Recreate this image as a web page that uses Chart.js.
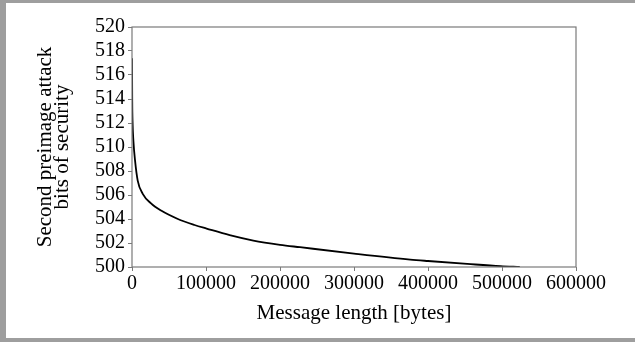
<!DOCTYPE html>
<html>
<head>
<meta charset="utf-8">
<script src="https://cdn.jsdelivr.net/npm/chart.js@4.4.1/dist/chart.umd.min.js"></script>
<style>
    html, body { margin: 0; padding: 0; background: #fff; }
    #wrap { position: relative; width: 635px; height: 342px; }
    #chart { position: absolute; left: 0; top: 0; }
    #frame {
        position: absolute; left: 0; top: 0; width: 635px; height: 342px;
        box-sizing: border-box;
        border-top: 3px solid #9e9e9e;
        border-left: 6px solid #9e9e9e;
        border-bottom: 4px solid #9e9e9e;
        pointer-events: none;
    }
</style>
</head>
<body>
<div id="wrap">
    <canvas id="chart" width="635" height="342"></canvas>
    <div id="frame"></div>
</div>
<script>
// Longitud del mensaje (bytes) y bits de seguridad frente a segunda preimagen
const msgLength = [0, 300, 800, 1900, 4070, 7700, 14500, 25700, 39300, 62000, 84500,
    100800, 132000, 164000, 200000, 227000, 300000, 376000, 400000, 453000, 498000, 524000];
const securityBits = [517.4, 513.8, 512.0, 510.5, 508.9, 507.2, 506.1, 505.3, 504.7, 504.0, 503.5,
    503.2, 502.65, 502.2, 501.85, 501.65, 501.12, 500.62, 500.5, 500.26, 500.07, 500.0];

// Marcas de los ejes
const xTicks = [0, 100000, 200000, 300000, 400000, 500000, 600000];
const yTicks = [500, 502, 504, 506, 508, 510, 512, 514, 516, 518, 520];

const AXIS_GRAY = '#7a7a7a';
const serif = 'Liberation Serif';

// Marco alrededor del área del gráfico
const frameBox = {
    id: 'frameBox',
    afterDraw(chart) {
        const { ctx, chartArea: a } = chart;
        ctx.save();
        ctx.strokeStyle = AXIS_GRAY;
        ctx.lineWidth = 1.2;
        ctx.strokeRect(a.left, a.top, a.right - a.left, a.bottom - a.top);
        ctx.restore();
    }
};

const points = msgLength.map((x, i) => ({ x: x, y: securityBits[i] }));

new Chart(document.getElementById('chart'), {
    type: 'line',
    data: {
        datasets: [{
            data: points,
            borderColor: '#000',
            borderWidth: 1.8,
            pointRadius: 0,
            fill: false,
            cubicInterpolationMode: 'monotone'
        }]
    },
    options: {
        responsive: false,
        animation: false,
        layout: { padding: { left: 0, top: 27, right: 59, bottom: 0 } },
        plugins: { legend: { display: false }, tooltip: { enabled: false } },
        scales: {
            x: {
                type: 'linear',
                min: 0,
                max: 600000,
                afterBuildTicks: scale => { scale.ticks = xTicks.map(v => ({ value: v })); },
                afterFit: scale => { scale.height = 75; },
                grid: { drawOnChartArea: false, tickLength: 4, color: AXIS_GRAY },
                border: { display: false },
                ticks: {
                    padding: 1,
                    color: '#000',
                    autoSkip: false,
                    font: { family: serif, size: 20 },
                    maxRotation: 0,
                    callback: v => String(v)
                },
                title: {
                    display: true,
                    text: 'Message length [bytes]',
                    color: '#000',
                    font: { family: serif, size: 21 },
                    padding: { top: 0, bottom: 16 }
                }
            },
            y: {
                min: 500,
                max: 520,
                afterBuildTicks: scale => { scale.ticks = yTicks.map(v => ({ value: v })); },
                afterFit: scale => { scale.width = 132; },
                grid: { drawOnChartArea: false, tickLength: 4, color: AXIS_GRAY },
                border: { display: false },
                ticks: {
                    padding: 3,
                    color: '#000',
                    autoSkip: false,
                    font: { family: serif, size: 20 },
                    callback: v => String(v)
                },
                title: {
                    display: true,
                    text: ['Second preimage attack', 'bits of security'],
                    color: '#000',
                    font: { family: serif, size: 21, lineHeight: 0.8 },
                    padding: { top: 37, bottom: 0 }
                }
            }
        }
    },
    plugins: [frameBox]
});
</script>
</body>
</html>
